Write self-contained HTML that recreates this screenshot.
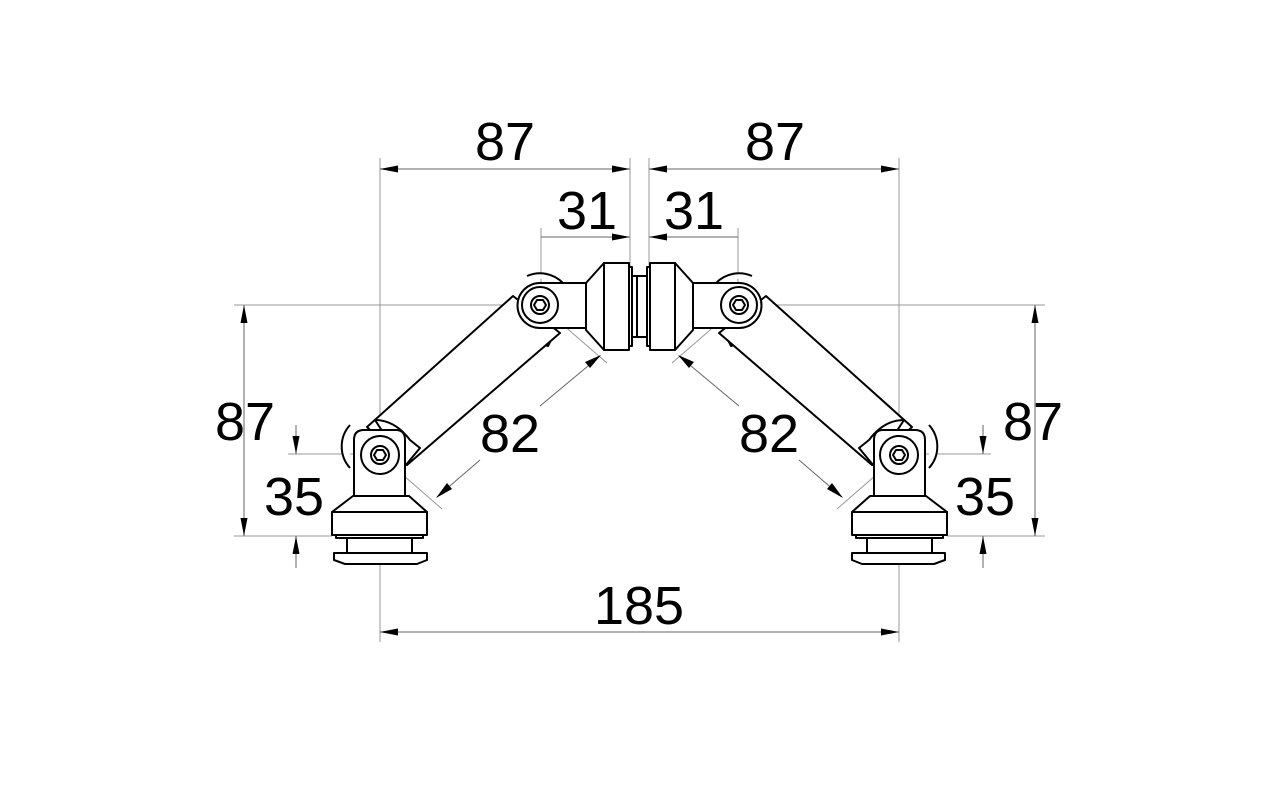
<!DOCTYPE html>
<html><head><meta charset="utf-8"><style>
html,body{margin:0;padding:0;background:#fff;}
svg{display:block;}
text{font-family:"Liberation Sans",sans-serif;font-size:54px;fill:#000;}
</style></head><body>
<svg width="1280" height="799" viewBox="0 0 1280 799" xmlns="http://www.w3.org/2000/svg">
<defs>
<g id="half">
  <g stroke="#999" stroke-width="1" fill="none">
    <line x1="380" y1="158" x2="380" y2="642"/>
    <line x1="630" y1="158" x2="630" y2="268"/>
    <line x1="541" y1="228" x2="541" y2="300"/>
    <line x1="234" y1="305" x2="540" y2="305"/>
    <line x1="234" y1="536" x2="332" y2="536"/>
    <line x1="288" y1="454" x2="380" y2="454"/>
    <line x1="540" y1="305" x2="607" y2="363"/>
    <line x1="380" y1="455" x2="442" y2="509"/>
  </g>
  <g stroke="#666" stroke-width="1" fill="none">
    <line x1="380" y1="169" x2="630" y2="169"/>
    <line x1="541" y1="237" x2="630" y2="237"/>
    <line x1="244" y1="305" x2="244" y2="536"/>
    <line x1="296" y1="425" x2="296" y2="454"/>
    <line x1="296" y1="536" x2="296" y2="568"/>
    <line x1="380" y1="632" x2="640" y2="632"/>
    <line x1="437" y1="497" x2="480" y2="460"/>
    <line x1="540" y1="406" x2="600" y2="356"/>
  </g>
  <g fill="#000">
    <polygon points="380,169 398,165.5 398,172.5"/>
    <polygon points="630,169 612,165.5 612,172.5"/>
    <polygon points="630,237 612,233.5 612,240.5"/>
    <polygon points="244,305 240.5,323 247.5,323"/>
    <polygon points="244,536 240.5,518 247.5,518"/>
    <polygon points="296,454 292.5,436 299.5,436"/>
    <polygon points="296,536 292.5,554 299.5,554"/>
    <polygon points="380,632 398,628.5 398,635.5"/>
    <polygon points="436,498 447,483 452,489"/>
    <polygon points="601,355 585,362 590,368"/>
  </g>
  <g stroke="#000" stroke-width="2" fill="#fff" stroke-linejoin="round">
    <path d="M527,276 A32,32 0 0 1 563,283"/>
    <path d="M500,315 L513,298 L556,330 L548,346 Q520,338 500,315 Z"/>
    <polygon points="367,427 513,296 560,333 407,465"/>
    <path d="M586,283 L540,283 A22,22 0 0 0 540,328 L586,328 Z"/>
    <circle cx="540" cy="305" r="18"/>
    <circle cx="540" cy="305" r="9"/>
    <polygon points="546,305 543,310 537,310 534,305 537,300 543,300"/>
    <polygon points="586,283 604,263 604,350 586,330"/>
    <rect x="604" y="263" width="25" height="87"/>
    <rect x="629" y="267" width="3" height="79"/>
    <rect x="632" y="276" width="10" height="61"/>
    <path d="M350,425 A32,32 0 0 0 350,468" />
    <path d="M375,420 Q395,420 410,440 L420,448 L405,466 Z"/>
    <path d="M354,496 L354,440 Q354,430 364,430 L396,430 Q405,430 405,440 L405,496 Z"/>
    <circle cx="380" cy="455" r="19"/>
    <circle cx="380" cy="455" r="9"/>
    <polygon points="386,455 383,460 377,460 374,455 377,450 383,450"/>
    <polygon points="353,496 409,496 427,512 332,512"/>
    <rect x="332" y="512" width="95" height="23"/>
    <rect x="336" y="535" width="87" height="3"/>
    <rect x="347" y="538" width="65" height="15"/>
    <polygon points="334,553 427,553 427,560 417,564 345,564 334,560"/>
  </g>
</g>
</defs>
<use href="#half"/>
<use href="#half" transform="translate(1279,0) scale(-1,1)"/>
<text x="505" y="160" text-anchor="middle">87</text>
<text x="775" y="160" text-anchor="middle">87</text>
<text x="587" y="229" text-anchor="middle">31</text>
<text x="694" y="229" text-anchor="middle">31</text>
<text x="245" y="440" text-anchor="middle">87</text>
<text x="1033" y="440" text-anchor="middle">87</text>
<text x="294" y="515" text-anchor="middle">35</text>
<text x="985" y="515" text-anchor="middle">35</text>
<text x="510" y="452" text-anchor="middle">82</text>
<text x="769" y="452" text-anchor="middle">82</text>
<text x="639" y="624" text-anchor="middle">185</text>
</svg>
</body></html>
